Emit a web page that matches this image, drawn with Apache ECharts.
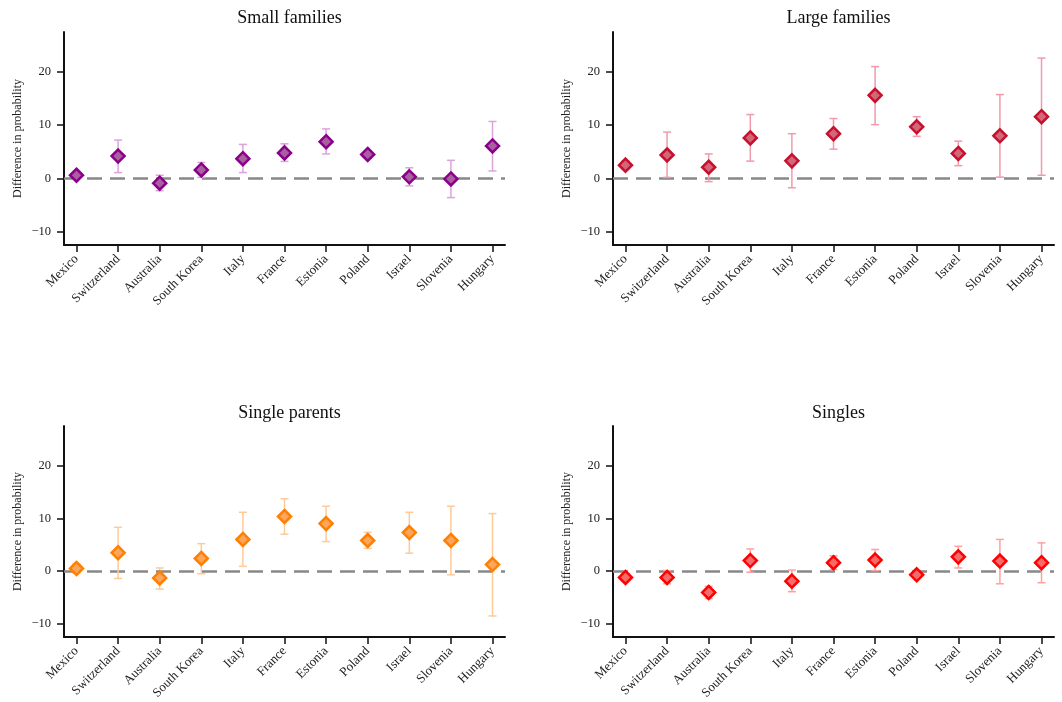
<!DOCTYPE html>
<html>
<head>
<meta charset="utf-8">
<script src="https://cdn.jsdelivr.net/npm/echarts@6/dist/echarts.min.js"></script>
<style>
html,body{margin:0;padding:0;background:#fff;}
#chart{width:1062px;height:702px;}
</style>
</head>
<body>
<div id="chart"></div>
<script>
// ---- Data ----
var categories = ["Mexico","Switzerland","Australia","South Korea","Italy","France","Estonia","Poland","Israel","Slovenia","Hungary"];
var yTicks = [-10, 0, 10, 20];
var panelTitles = ["Small families","Large families","Single parents","Singles"];

var smallEst = [0.6, 4.2, -0.9, 1.6, 3.7, 4.8, 6.9, 4.5, 0.3, -0.1, 6.1];
var smallLo  = [0.1, 1.1, -2.3, 0.2, 1.1, 3.2, 4.6, 4.1, -1.4, -3.6, 1.4];
var smallHi  = [1.1, 7.2, 0.6, 3.0, 6.4, 6.5, 9.3, 5.0, 2.0, 3.4, 10.7];

var largeEst = [2.5, 4.4, 2.1, 7.6, 3.3, 8.4, 15.6, 9.7, 4.7, 8.0, 11.6];
var largeLo  = [1.7, 0.2, -0.6, 3.25, -1.75, 5.5, 10.1, 7.9, 2.4, 0.25, 0.6];
var largeHi  = [3.3, 8.7, 4.6, 12.0, 8.4, 11.25, 21.0, 11.6, 7.0, 15.75, 22.6];

var parentEst = [0.5, 3.5, -1.3, 2.4, 6.0, 10.35, 9.0, 5.8, 7.3, 5.8, 1.25];
var parentLo  = [-0.4, -1.4, -3.4, -0.5, 0.9, 7.0, 5.6, 4.3, 3.4, -0.7, -8.5];
var parentHi  = [1.4, 8.3, 0.6, 5.2, 11.15, 13.7, 12.3, 7.35, 11.15, 12.3, 10.9];

var singleEst = [-1.2, -1.2, -4.05, 2.0, -1.9, 1.6, 2.1, -0.7, 2.7, 1.9, 1.6];
var singleLo  = [-1.8, -2.4, -5.2, -0.2, -3.9, 0.3, 0.1, -1.2, 0.6, -2.4, -2.2];
var singleHi  = [-0.55, 0.1, -2.9, 4.2, 0.2, 2.9, 4.1, -0.2, 4.7, 6.0, 5.35];

// ---- Build ----
var panels = [
  {est: smallEst, lo: smallLo, hi: smallHi, border: "#8b008b", fill: "#a8609f", err: "#dba3db"},
  {est: largeEst, lo: largeLo, hi: largeHi, border: "#c8102e", fill: "#d0677a", err: "#f09aab"},
  {est: parentEst, lo: parentLo, hi: parentHi, border: "#ff7f00", fill: "#fca55c", err: "#ffca98"},
  {est: singleEst, lo: singleLo, hi: singleHi, border: "#ff0000", fill: "#f56b6b", err: "#ffa0a0"}
];
var gridPos = [
  {left: 64, top: 32, width: 441, height: 213},
  {left: 613, top: 32, width: 441, height: 213},
  {left: 64, top: 426, width: 441, height: 214},
  {left: 613, top: 426, width: 441, height: 214}
];
var titleTops = [4, 4, 399, 399];
var serif = "Liberation Serif";
var xIdx = categories.map(function(_, i){ return i; });

var option = {
  backgroundColor: "#fff",
  animation: false,
  title: [], grid: [], xAxis: [], yAxis: [], series: []
};

panels.forEach(function(p, k){
  var g = gridPos[k];
  option.grid.push({left: g.left, top: g.top, width: g.width, height: g.height, containLabel: false});
  option.title.push({
    text: panelTitles[k],
    left: g.left + g.width / 2, top: titleTops[k], textAlign: "center",
    textStyle: {fontFamily: serif, fontSize: 18, fontWeight: "normal", color: "#111"}
  });
  option.xAxis.push({
    type: "value", gridIndex: k, min: -0.3, max: 10.3,
    splitLine: {show: false},
    axisLine: {show: true, onZero: false, lineStyle: {color: "#111", width: 2}},
    axisTick: {show: true, customValues: xIdx, length: 7, lineStyle: {color: "#111", width: 1.5}},
    axisLabel: {
      customValues: xIdx, rotate: 45, margin: 12,
      fontFamily: serif, fontSize: 13, color: "#222",
      formatter: function(v){ return categories[Math.round(v)]; }
    }
  });
  option.yAxis.push({
    type: "value", gridIndex: k, min: -12.5, max: 27.5,
    name: "Difference in probability", nameLocation: "middle", nameGap: 40,
    nameTextStyle: {fontFamily: serif, fontSize: 12, color: "#222"},
    splitLine: {show: false},
    axisLine: {show: true, onZero: false, lineStyle: {color: "#111", width: 2}},
    axisTick: {show: true, customValues: yTicks, length: 7, lineStyle: {color: "#111", width: 1.5}},
    axisLabel: {
      customValues: yTicks, margin: 13,
      fontFamily: serif, fontSize: 12.5, color: "#222",
      formatter: function(v){ return v < 0 ? "\u2212" + Math.abs(v) : String(v); }
    }
  });
  var errData = p.est.map(function(_, i){ return [i, p.lo[i], p.hi[i]]; });
  option.series.push({
    type: "custom", xAxisIndex: k, yAxisIndex: k, z: 2, silent: true,
    data: errData,
    renderItem: function(params, api){
      var x = api.value(0);
      var a = api.coord([x, api.value(1)]);
      var b = api.coord([x, api.value(2)]);
      var c = 4;
      var st = {stroke: p.err, lineWidth: 1.5};
      return {type: "group", children: [
        {type: "line", shape: {x1: a[0], y1: a[1], x2: b[0], y2: b[1]}, style: st},
        {type: "line", shape: {x1: a[0]-c, y1: a[1], x2: a[0]+c, y2: a[1]}, style: st},
        {type: "line", shape: {x1: b[0]-c, y1: b[1], x2: b[0]+c, y2: b[1]}, style: st}
      ]};
    },
    markLine: {
      silent: true, symbol: ["none", "none"], z: 1,
      label: {show: false},
      lineStyle: {color: "#888", width: 2.5, type: [15, 8]},
      data: [{yAxis: 0}]
    }
  });
  option.series.push({
    type: "scatter", xAxisIndex: k, yAxisIndex: k, z: 3,
    symbol: "diamond", symbolSize: 13,
    itemStyle: {color: p.fill, borderColor: p.border, borderWidth: 2.5, opacity: 1},
    data: p.est.map(function(v, i){ return [i, v]; })
  });
});

var chart = echarts.init(document.getElementById("chart"), null, {renderer: "canvas"});
chart.setOption(option);
</script>
</body>
</html>
